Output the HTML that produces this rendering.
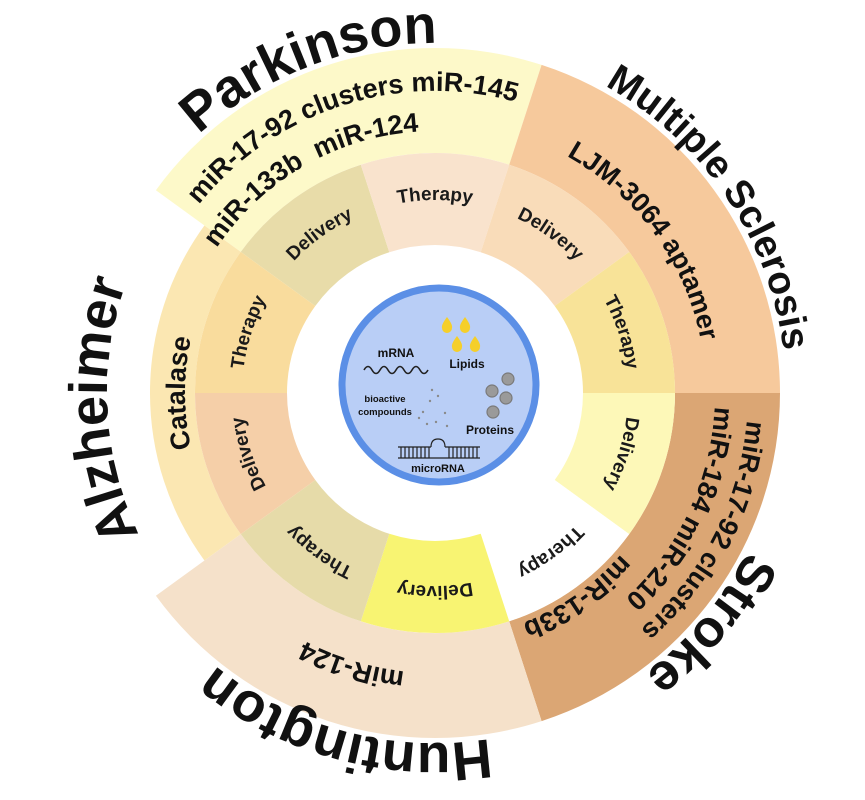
<!DOCTYPE html>
<html><head><meta charset="utf-8"><style>
html,body{margin:0;padding:0;background:#fff;}
svg{display:block;}
text{font-family:"Liberation Sans",Arial,sans-serif;fill:#111;}
.d{font-weight:bold;}
.m{font-weight:bold;font-size:27px;}
.i{font-size:19px;font-weight:bold;fill:#1a1a1a;}
</style></head><body>
<svg id="s" width="865" height="800" viewBox="0 0 865 800" xmlns="http://www.w3.org/2000/svg">
<defs id="defs"></defs>
<path d="M155.9,190.2 A345,345 0 0 1 541.6,64.9 L509.2,164.7 A240,240 0 0 0 240.8,251.9 Z" fill="#fdf9c9"/>
<path d="M541.6,64.9 A345,345 0 0 1 780,393 L675,393 A240,240 0 0 0 509.2,164.7 Z" fill="#f6c99c"/>
<path d="M780,393 A345,345 0 0 1 541.6,721.1 L509.2,621.3 A240,240 0 0 0 675,393 Z" fill="#dba674"/>
<path d="M541.6,721.1 A345,345 0 0 1 155.9,595.8 L240.8,534.1 A240,240 0 0 0 509.2,621.3 Z" fill="#f5e1ca"/>
<path d="M204.4,560.5 A285,285 0 0 1 204.4,225.5 L240.8,251.9 A240,240 0 0 0 240.8,534.1 Z" fill="#fbe7b2"/>
<path d="M240.8,251.9 A240,240 0 0 1 360.8,164.7 L389.3,252.2 A148,148 0 0 0 315.3,306.0 Z" fill="#e8dca9"/>
<path d="M360.8,164.7 A240,240 0 0 1 509.2,164.7 L480.7,252.2 A148,148 0 0 0 389.3,252.2 Z" fill="#f9e3cd"/>
<path d="M509.2,164.7 A240,240 0 0 1 629.2,251.9 L554.7,306.0 A148,148 0 0 0 480.7,252.2 Z" fill="#f9dcb9"/>
<path d="M629.2,251.9 A240,240 0 0 1 675,393 L583,393 A148,148 0 0 0 554.7,306.0 Z" fill="#f8e398"/>
<path d="M675,393 A240,240 0 0 1 629.2,534.1 L554.7,480.0 A148,148 0 0 0 583,393 Z" fill="#fdf8b8"/>
<path d="M629.2,534.1 A240,240 0 0 1 509.2,621.3 L480.7,533.8 A148,148 0 0 0 554.7,480.0 Z" fill="#ffffff"/>
<path d="M509.2,621.3 A240,240 0 0 1 360.8,621.3 L389.3,533.8 A148,148 0 0 0 480.7,533.8 Z" fill="#f8f472"/>
<path d="M360.8,621.3 A240,240 0 0 1 240.8,534.1 L315.3,480.0 A148,148 0 0 0 389.3,533.8 Z" fill="#e6dba9"/>
<path d="M240.8,534.1 A240,240 0 0 1 195,393 L287,393 A148,148 0 0 0 315.3,480.0 Z" fill="#f5cfa8"/>
<path d="M195,393 A240,240 0 0 1 240.8,251.9 L315.3,306.0 A148,148 0 0 0 287,393 Z" fill="#f9dc9d"/>

<circle cx="439" cy="385" r="97" fill="#b9cef6" stroke="#5b8fe6" stroke-width="7"/>
<text x="396" y="357" font-size="12" font-weight="bold" text-anchor="middle">mRNA</text>
<path d="M364,370 q4,-7 8,0 t8,0 t8,0 t8,0 t8,0 t8,0 t8,0 t8,0" fill="none" stroke="#222" stroke-width="1.6"/>
<g fill="#f5cf2a">
<path d="M447,317 q-6,8 -5,11 a5,5 0 0 0 10,0 q1,-3 -5,-11z"/>
<path d="M465,317 q-6,8 -5,11 a5,5 0 0 0 10,0 q1,-3 -5,-11z"/>
<path d="M457,336 q-6,8 -5,11 a5,5 0 0 0 10,0 q1,-3 -5,-11z"/>
<path d="M475,336 q-6,8 -5,11 a5,5 0 0 0 10,0 q1,-3 -5,-11z"/>
</g>
<text x="467" y="368" font-size="12" font-weight="bold" text-anchor="middle">Lipids</text>
<g fill="#9a9a9a" stroke="#7a7a7a" stroke-width="1.2">
<circle cx="508" cy="379" r="6"/><circle cx="492" cy="391" r="6"/><circle cx="506" cy="398" r="6"/><circle cx="493" cy="412" r="6"/>
</g>
<text x="385" y="402" font-size="9.5" font-weight="bold" text-anchor="middle" fill="#333">bioactive</text>
<text x="385" y="415" font-size="9.5" font-weight="bold" text-anchor="middle" fill="#333">compounds</text>
<g fill="#8a8a8a">
<circle cx="432" cy="390" r="1.2"/><circle cx="438" cy="396" r="1.2"/><circle cx="430" cy="401" r="1.2"/><circle cx="423" cy="412" r="1.2"/><circle cx="445" cy="413" r="1.2"/><circle cx="427" cy="424" r="1.2"/><circle cx="436" cy="422" r="1.2"/><circle cx="447" cy="426" r="1.2"/><circle cx="419" cy="418" r="1.2"/>
</g>
<text x="490" y="434" font-size="12" font-weight="bold" text-anchor="middle">Proteins</text>
<g stroke="#222" stroke-width="1.2" fill="none">
<path d="M398,447 H431 M445,447 H480 M398,458 H480"/>
<path d="M431,447 q0,-8 7,-8 q7,0 7,8"/>
<path d="M401,447V458M405,447V458M409,447V458M413,447V458M417,447V458M421,447V458M425,447V458M429,447V458M449,447V458M453,447V458M457,447V458M461,447V458M465,447V458M469,447V458M473,447V458M477,447V458"/>
</g>
<text x="438" y="472" font-size="11" font-weight="bold" text-anchor="middle">microRNA</text>

<text class="d" font-size="54"><textPath href="#p1" startOffset="50%" text-anchor="middle">Parkinson</textPath></text>
<text class="d" font-size="39"><textPath href="#p2" startOffset="50%" text-anchor="middle">Multiple Sclerosis</textPath></text>
<text class="d" font-size="52"><textPath href="#p3" startOffset="50%" text-anchor="middle">Stroke</textPath></text>
<text class="d" font-size="55"><textPath href="#p4" startOffset="50%" text-anchor="middle">Huntington</textPath></text>
<text class="d" font-size="54"><textPath href="#p5" startOffset="50%" text-anchor="middle">Alzheimer</textPath></text>
<text class="m" font-size="26"><textPath href="#q1" startOffset="50%" text-anchor="middle">miR-17-92 clusters miR-145</textPath></text>
<text class="m" font-size="26" xml:space="preserve"><textPath href="#q2" startOffset="50%" text-anchor="middle">miR-133b  miR-124</textPath></text>
<text class="m" fill="#2a1a10"><textPath href="#q3" startOffset="50%" text-anchor="middle">LJM-3064 aptamer</textPath></text>
<text class="m"><textPath href="#q4" startOffset="50%" text-anchor="middle">miR-17-92 clusters</textPath></text>
<text class="m"><textPath href="#q5" startOffset="50%" text-anchor="middle">miR-184 miR-210</textPath></text>
<text class="m"><textPath href="#q6" startOffset="50%" text-anchor="middle">miR-133b</textPath></text>
<text class="m"><textPath href="#q7" startOffset="50%" text-anchor="middle">miR-124</textPath></text>
<text class="m" font-size="25"><textPath href="#q8" startOffset="50%" text-anchor="middle">Catalase</textPath></text>
<text class="i"><textPath href="#r1" startOffset="50%" text-anchor="middle">Delivery</textPath></text>
<text class="i"><textPath href="#r2" startOffset="50%" text-anchor="middle">Therapy</textPath></text>
<text class="i"><textPath href="#r3" startOffset="50%" text-anchor="middle">Delivery</textPath></text>
<text class="i"><textPath href="#r4" startOffset="50%" text-anchor="middle">Therapy</textPath></text>
<text class="i"><textPath href="#r5" startOffset="50%" text-anchor="middle">Delivery</textPath></text>
<text class="i"><textPath href="#r6" startOffset="50%" text-anchor="middle">Therapy</textPath></text>
<text class="i"><textPath href="#r7" startOffset="50%" text-anchor="middle">Delivery</textPath></text>
<text class="i"><textPath href="#r8" startOffset="50%" text-anchor="middle">Therapy</textPath></text>
<text class="i"><textPath href="#r9" startOffset="50%" text-anchor="middle">Delivery</textPath></text>
<text class="i"><textPath href="#r10" startOffset="50%" text-anchor="middle">Therapy</textPath></text>
</svg>
<script>
(function(){
var cx=435,cy=393,NS="http://www.w3.org/2000/svg",defs=document.getElementById("defs");
var L=[["p1",350,-111],["p2",351,-34],["p3",350,40],["p4",350,105],["p5",328,177],
["q1",302,-108],["q2",262,-120],["q3",271,-36],["q4",313,27],["q5",280,25],["q6",246,55],["q7",280,107],["q8",250,180],
["r1",193,-126],["r2",193,-90],["r3",193,-54],["r4",193,-18],["r5",193,18],["r6",193,54],["r7",193,90],["r8",193,126],["r9",193,162],["r10",193,198]];
L.forEach(function(l){
var r=l[1],t=l[2],a1=(t-179)*Math.PI/180,a2=(t+179)*Math.PI/180;
var p=document.createElementNS(NS,"path");
p.setAttribute("id",l[0]);
p.setAttribute("d","M"+(cx+r*Math.cos(a1)).toFixed(2)+","+(cy+r*Math.sin(a1)).toFixed(2)+" A"+r+","+r+" 0 1 1 "+(cx+r*Math.cos(a2)).toFixed(2)+","+(cy+r*Math.sin(a2)).toFixed(2));
defs.appendChild(p);
});
})();
</script>
</body></html>
